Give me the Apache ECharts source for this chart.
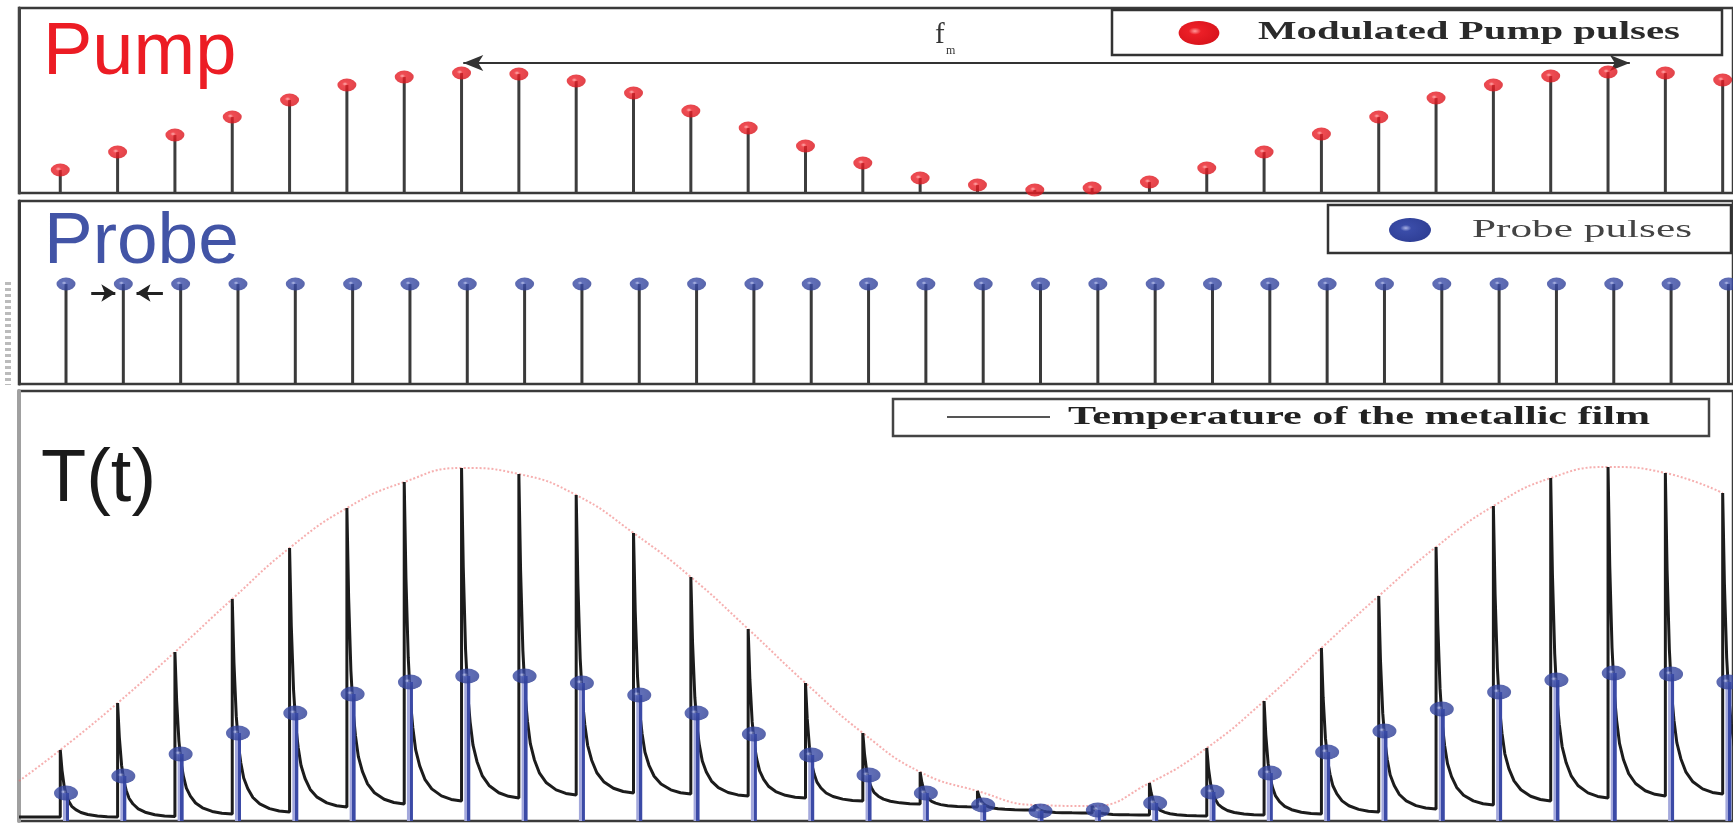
<!DOCTYPE html>
<html>
<head>
<meta charset="utf-8">
<title>Pump / Probe / T(t)</title>
<script src="https://cdn.jsdelivr.net/npm/echarts@6/dist/echarts.min.js"></script>
<style>
html, body { margin: 0; padding: 0; background: #fff; }
#chart { width: 1733px; height: 824px; }
</style>
</head>
<body>
<div id="chart"></div>
<script>
// pulse number of each laser shot (time axis, in pulse periods)
const pulseIndex = [0, 1, 2, 3, 4, 5, 6, 7, 8, 9, 10, 11, 12, 13, 14, 15, 16, 17, 18, 19, 20, 21, 22, 23, 24, 25, 26, 27, 28, 29]
// modulated pump pulse height (a.u.)
const pumpPower = [23, 41, 58, 76, 93, 108, 116, 120, 119, 112, 100, 82, 65, 47, 30, 15, 8, 3, 5, 11, 25, 41, 59, 76, 95, 108, 117, 121, 120, 113]
// probe pulse height (a.u.), constant
const probeLevel = [100, 100, 100, 100, 100, 100, 100, 100, 100, 100, 100, 100, 100, 100, 100, 100, 100, 100, 100, 100, 100, 100, 100, 100, 100, 100, 100, 100, 100, 100]
// film temperature just before each pump pulse (last one = after the last pulse)
const tempFloor = [4, 4, 4.5, 7, 9, 14, 17, 20, 23, 26, 28, 27, 25, 23, 20, 17, 14, 11, 8, 6, 5, 6, 7, 9, 12, 16, 20, 23, 25, 27, 28]
// film temperature right after each pump pulse
const tempPeak = [71, 118, 169, 222, 273, 313, 339, 353, 347, 326, 288, 244, 192, 138, 88, 49, 30, 16, 15, 38, 73, 120, 173, 225, 274, 315, 343, 354, 348, 328]
// temperature seen by each probe pulse
const probeTemp = [28, 45, 67, 88, 108, 127, 139, 145, 145, 138, 126, 108, 87, 66, 46, 28, 16, 10, 11, 18, 29, 48, 69, 90, 112, 129, 141, 148, 147, 139]
// shape of one relaxation after a pulse (time after pulse, part of the jump left)
const decayTime = [0, 0.03, 0.07, 0.11, 0.15, 0.2, 0.27, 0.36, 0.48, 0.65, 0.82, 1.0]
const decayFrac = [1, 0.7, 0.45, 0.31, 0.23, 0.16, 0.11, 0.068, 0.038, 0.016, 0.005, 0]
// dotted envelope value at the left edge
const envelopeLeft = 40
const probeDelay = 0.1

const xMin = -0.72
const xMax = 29.18

const chart = echarts.init(document.getElementById('chart'))

const pumpData = pulseIndex.map((t, i) => [t, pumpPower[i]])
const probeData = pulseIndex.map((t, i) => [t + probeDelay, probeLevel[i]])
const probeTempData = pulseIndex.map((t, i) => [t + probeDelay, probeTemp[i]])
const envelopeData = [[xMin, envelopeLeft]].concat(pulseIndex.map((t, i) => [t, tempPeak[i]]))

// temperature trace: jump at every pump pulse then relax to the next floor
const tempData = [[xMin, tempFloor[0]]]
pulseIndex.forEach((t, i) => {
  tempData.push([t, tempFloor[i]], [t, tempPeak[i]])
  decayTime.forEach((dt, k) => {
    if (k === 0) return
    tempData.push([t + dt, tempFloor[i + 1] + (tempPeak[i] - tempFloor[i + 1]) * decayFrac[k]])
  })
})

// stretch legend texts to the width they take in the picture
const measure = document.createElement('canvas').getContext('2d')
const stretch = (text, font, width) => {
  measure.font = font
  return width / measure.measureText(text).width
}

const serif = '"Liberation Serif", "Times New Roman", serif'
const sans = '"Liberation Sans", Arial, sans-serif'

const redBall = {
  type: 'radial', x: 0.4, y: 0.42, r: 0.6,
  colorStops: [
    { offset: 0, color: '#ff9a9a' },
    { offset: 0.25, color: '#ec1f27' },
    { offset: 1, color: '#d9141c' }
  ]
}
const blueBall = {
  type: 'radial', x: 0.4, y: 0.42, r: 0.6,
  colorStops: [
    { offset: 0, color: '#aab3e6' },
    { offset: 0.22, color: '#3a4ca8' },
    { offset: 1, color: '#2f3f96' }
  ]
}

const legendText = (text, left, width, y, size, weight, color) => {
  const font = weight + ' ' + size + 'px ' + serif
  return {
    type: 'text', x: left, y: y, z: 20,
    scaleX: stretch(text, font, width),
    style: { text: text, fontFamily: serif, fontSize: size, fontWeight: weight, fill: color, verticalAlign: 'middle', align: 'left' }
  }
}

const hidden = { show: false }
const xAxisBase = { type: 'value', min: xMin, max: xMax, show: false }
const yAxisBase = (max, color, width) => ({
  type: 'value', min: 0, max: max,
  axisLine: { show: true, onZero: false, lineStyle: { color: color, width: width } },
  axisTick: hidden, axisLabel: hidden, splitLine: hidden
})
const gridBase = { show: true, borderColor: '#3a3a3a', borderWidth: 2.5, left: 19, width: 1717 }

chart.setOption({
  backgroundColor: '#fff',
  animation: false,
  grid: [
    Object.assign({ top: 8, height: 185 }, gridBase),
    Object.assign({ top: 201, height: 183 }, gridBase),
    Object.assign({ top: 391, height: 430 }, gridBase)
  ],
  xAxis: [
    Object.assign({ gridIndex: 0 }, xAxisBase),
    Object.assign({ gridIndex: 1 }, xAxisBase),
    Object.assign({ gridIndex: 2 }, xAxisBase)
  ],
  yAxis: [
    Object.assign({ gridIndex: 0 }, yAxisBase(185, '#444', 3)),
    Object.assign({ gridIndex: 1 }, yAxisBase(183, '#3a3a3a', 3)),
    Object.assign({ gridIndex: 2 }, yAxisBase(430, '#a0a0a0', 4))
  ],
  series: [
    {
      name: 'pump stems', type: 'bar', xAxisIndex: 0, yAxisIndex: 0,
      barWidth: 3, silent: true,
      itemStyle: { color: '#3d3d3d' },
      data: pumpData
    },
    {
      name: 'Modulated Pump pulses', type: 'scatter', xAxisIndex: 0, yAxisIndex: 0,
      symbolSize: [19, 13], silent: true, z: 5,
      itemStyle: { color: redBall },
      data: pumpData,
      markLine: {
        silent: true, symbol: ['arrow', 'arrow'], symbolSize: [12, 20],
        lineStyle: { color: '#333', width: 2, type: 'solid' },
        label: hidden,
        data: [[{ coord: [7.03, 130] }, { coord: [27.38, 130] }]]
      }
    },
    {
      name: 'probe stems', type: 'bar', xAxisIndex: 1, yAxisIndex: 1,
      barWidth: 3, silent: true,
      itemStyle: { color: '#3a3a3a' },
      data: probeData
    },
    {
      name: 'Probe pulses', type: 'scatter', xAxisIndex: 1, yAxisIndex: 1,
      symbolSize: [19, 13], silent: true, z: 5,
      itemStyle: { color: blueBall },
      data: probeData,
      markLine: {
        silent: true, symbol: ['none', 'arrow'], symbolSize: [13, 14],
        lineStyle: { color: '#222', width: 3, type: 'solid' },
        label: hidden,
        data: [
          [{ coord: [0.54, 91] }, { coord: [0.96, 91] }],
          [{ coord: [1.79, 91] }, { coord: [1.33, 91] }]
        ]
      }
    },
    {
      name: 'envelope', type: 'line', xAxisIndex: 2, yAxisIndex: 2,
      smooth: true, showSymbol: false, silent: true, z: 1,
      lineStyle: { color: 'rgba(238, 110, 110, 0.55)', width: 2, type: 'dotted' },
      data: envelopeData
    },
    {
      name: 'Temperature of the metallic film', type: 'line', xAxisIndex: 2, yAxisIndex: 2,
      showSymbol: false, silent: true, z: 3,
      lineStyle: { color: '#1c1c1c', width: 3 },
      data: tempData
    },
    {
      name: 'probe on film', type: 'bar', xAxisIndex: 2, yAxisIndex: 2,
      barWidth: 6, silent: true, z: 4,
      itemStyle: {
        color: {
          type: 'linear', x: 0, y: 0, x2: 1, y2: 0,
          colorStops: [
            { offset: 0, color: '#a3a8dc' },
            { offset: 0.45, color: '#a3a8dc' },
            { offset: 0.45, color: '#3b4aa6' },
            { offset: 1, color: '#3b4aa6' }
          ]
        }
      },
      data: probeTempData
    },
    {
      name: 'probe samples', type: 'scatter', xAxisIndex: 2, yAxisIndex: 2,
      symbolSize: [24, 15], silent: true, z: 6,
      itemStyle: { color: blueBall },
      data: probeTempData
    }
  ],
  graphic: [
    // panel titles
    { type: 'text', x: 43, y: 54, z: 20, style: { text: 'Pump', fontFamily: sans, fontSize: 74, fill: '#ec1c24', verticalAlign: 'middle' } },
    { type: 'text', x: 44, y: 243, z: 20, style: { text: 'Probe', fontFamily: sans, fontSize: 73, fill: '#4254a6', verticalAlign: 'middle' } },
    { type: 'text', x: 41, y: 481, z: 20, style: { text: 'T(t)', fontFamily: sans, fontSize: 74, fill: '#1a1a1a', verticalAlign: 'middle' } },
    // modulation frequency label
    { type: 'text', x: 935, y: 35, z: 20, style: { text: 'f', fontFamily: serif, fontSize: 29, fill: '#333', verticalAlign: 'middle' } },
    { type: 'text', x: 946, y: 51, z: 20, style: { text: 'm', fontFamily: serif, fontSize: 12, fill: '#333', verticalAlign: 'middle' } },
    // pump legend
    { type: 'rect', z: 19, shape: { x: 1112, y: 10, width: 610, height: 45 }, style: { fill: '#fff', stroke: '#333', lineWidth: 2.5 } },
    { type: 'circle', z: 20, x: 1199, y: 33, scaleX: 1.7, shape: { cx: 0, cy: 0, r: 12 }, style: { fill: redBall } },
    legendText('Modulated Pump pulses', 1258, 422, 33, 25, 'bold', '#2a2a2a'),
    // probe legend
    { type: 'rect', z: 19, shape: { x: 1328, y: 205, width: 403, height: 48 }, style: { fill: '#fff', stroke: '#333', lineWidth: 2.5 } },
    { type: 'circle', z: 20, x: 1410, y: 230, scaleX: 1.75, shape: { cx: 0, cy: 0, r: 12 }, style: { fill: blueBall } },
    legendText('Probe pulses', 1472, 220, 230, 26, 'normal', '#444'),
    // temperature legend
    { type: 'rect', z: 19, shape: { x: 893, y: 399, width: 816, height: 37 }, style: { fill: '#fff', stroke: '#444', lineWidth: 2.5 } },
    { type: 'line', z: 20, shape: { x1: 947, y1: 417, x2: 1050, y2: 417 }, style: { stroke: '#555', lineWidth: 2 } },
    legendText('Temperature of the metallic film', 1068, 582, 417, 26, 'bold', '#222'),
    // faint dashed mark left of the probe panel
    { type: 'line', z: 1, shape: { x1: 8, y1: 282, x2: 8, y2: 385 }, style: { stroke: '#bbb', lineWidth: 6, lineDash: [3, 3] } }
  ]
})
</script>
</body>
</html>
